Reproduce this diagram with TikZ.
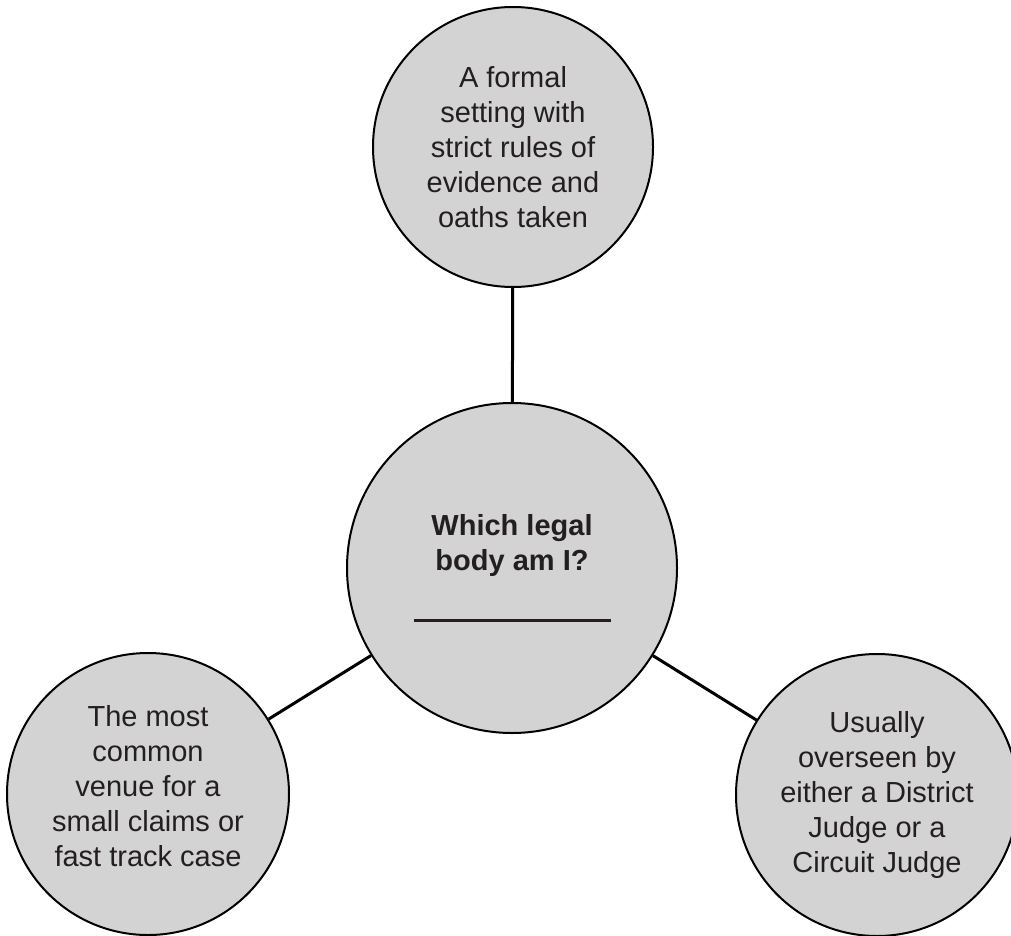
\documentclass[tikz,border=0pt]{standalone}
\usepackage{fontspec}
\setmainfont{Liberation Sans}
\usepackage{tikz}
\usetikzlibrary{positioning}
\usepackage{xcolor}
\definecolor{bubblegray}{HTML}{D3D3D3}
\definecolor{inkdark}{HTML}{231F20}
\tikzset{
  bubble/.style={circle, draw=black, line width=2pt, fill=bubblegray, text=inkdark, align=center, inner sep=0pt, minimum size=282pt, font=\fontsize{29}{35}\selectfont},
  hub/.style={bubble, minimum size=330pt},
  link/.style={line width=3pt, draw=black}
}

\begin{document}
\begin{tikzpicture}[x=1pt, y=-1pt]
  \useasboundingbox (0,0) rectangle (1011,936);
  \node[hub] (body) at (512,568) {\textbf{Which legal}\\\textbf{body am I?}\\[16pt]\rule{197pt}{2.5pt}};
  \node[bubble, minimum size=280pt] (formal) at (513,147) {A formal\\setting with\\strict rules of\\evidence and\\oaths taken};
  \node[bubble] (venue) at (148,794) {The most\\common\\venue for a\\small claims or\\fast track case\rule[-16pt]{0pt}{0pt}};
  \node[bubble] (judge) at (877,795) {Usually\\overseen by\\either a District\\Judge or a\\Circuit Judge};
  \draw[link] (body) -- (formal);
  \draw[link] (body) -- (venue);
  \draw[link] (body) -- (judge);
\end{tikzpicture}
\end{document}
